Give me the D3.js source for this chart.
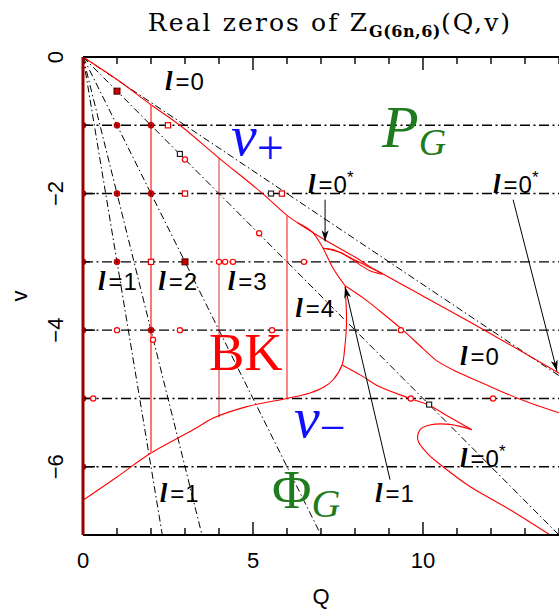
<!DOCTYPE html>
<html>
<head>
<meta charset="utf-8">
<script src="https://cdn.jsdelivr.net/npm/d3@7"></script>
<style>
  body { margin: 0; background: #fff; }
  svg { display: block; }
</style>
</head>
<body>
<svg id="chart" width="559" height="611"></svg>
<script>
// ---- axes ----
const qDomain = [0, 14];
const vDomain = [0, -7];
const qTicks = d3.range(0, 15);
const qMajor = [0, 5, 10];
const qLabels = ["0", "5", "10"];
const vTicks = d3.range(0, -8, -1);
const vMajor = [0, -2, -4, -6];
const vLabels = ["0", "\u22122", "\u22124", "\u22126"];

// ---- reference lines: horizontal v = const and rays v = -k Q ----
const gridV = [-1, -2, -3, -4, -5, -6];
const rayK = [1 / 3, 1 / 2, 1, 2, 3];

// ---- red zero curves, [Q, v] ----
const vPlusUpper = [[0, 0], [1, -0.33], [2, -0.7], [2.85, -1.0], [4, -1.48], [5.26, -1.99], [6, -2.32],
  [6.32, -2.43], [7.12, -2.68], [8.0, -2.93], [8.44, -3.07], [8.8, -3.17], [9.41, -3.34], [11.38, -3.88], [14, -4.63]];
const splitBranch = [[6.32, -2.43], [6.74, -2.56], [7.06, -2.8], [7.35, -3.09], [7.71, -3.35]];
const wedgeA = [[7.06, -2.8], [7.35, -2.82], [7.74, -2.91], [8.3, -3.05], [8.8, -3.17]];
const wedgeB = [[7.06, -2.8], [7.62, -2.87], [7.9, -2.96], [8.44, -3.13], [8.8, -3.18]];
const middleBranch = [[7.71, -3.35], [8.3, -3.55], [8.73, -3.72], [9.41, -4.0], [10.0, -4.27], [10.41, -4.45],
  [11.0, -4.61], [11.68, -4.76], [12.8, -5.0], [14, -5.21]];
const vMinus = [[0, -6.49], [1, -6.15], [2, -5.8], [3.24, -5.46], [3.82, -5.29], [4.82, -5.12], [6.0, -5.0],
  [6.68, -4.92], [7.1, -4.83], [7.35, -4.73], [7.62, -4.51], [7.7, -4.25], [7.75, -3.9], [7.71, -3.35]];
const lowerBranch = [[7.62, -4.51], [8.2, -4.67], [8.73, -4.83], [9.62, -5.0], [10.18, -5.1], [10.8, -5.28], [11.44, -5.46]];
const loopBranch = [[11.44, -5.46], [10.79, -5.38], [10.2, -5.39], [9.91, -5.46], [9.85, -5.61], [10.12, -5.8],
  [10.59, -6.0], [11.38, -6.29], [12.56, -6.63], [13.74, -7.0]];
const verticals = [
  { q: 2, top: -0.7, bottom: -5.8, color: "#ff6666", width: 1.8 },
  { q: 4, top: -1.48, bottom: -5.28, color: "#c00000", width: 0.8 },
  { q: 6, top: -2.32, bottom: -5.0, color: "#ff2020", width: 1.1 }
];

// ---- marked zeros: [Q, v, kind] ----
const points = [
  [0, -1, "dot"], [0, -2, "dot"], [0, -3, "dot"], [0, -4, "dot"], [0, -5, "dot"], [0, -6, "dot"],
  [1, -0.5, "dsq"], [1, -1, "dot"], [2, -1, "dot"], [2.5, -1, "sq"], [2.85, -1.42, "bsq"], [3, -1.5, "ring"],
  [1, -2, "dot"], [2, -2, "dot"], [3, -2, "sq"], [5.53, -2, "bsq"], [5.85, -2, "sq"], [5.18, -2.58, "ring"],
  [1, -3, "dot"], [2, -3, "sq"], [3, -3, "dsq"], [4, -3, "ring"], [4.18, -3, "ring"], [4.41, -3, "ring"], [6.5, -3, "ring"],
  [1, -4, "ring"], [2, -4, "dot"], [2.85, -4, "ring"], [2.06, -4.14, "ring"], [5.56, -4, "ring"], [9.35, -4, "ring"],
  [0.3, -5, "ring"], [9.64, -5, "ring"], [10.18, -5.09, "bsq"], [12.06, -5, "ring"]
];

// ---- annotations ----
const lLabels = [
  { q: 2.41, v: -0.48, n: "0", star: false },
  { q: 6.62, v: -1.99, n: "0", star: true },
  { q: 12.06, v: -1.99, n: "0", star: true },
  { q: 0.44, v: -3.41, n: "1", star: false },
  { q: 2.21, v: -3.41, n: "2", star: false },
  { q: 4.26, v: -3.41, n: "3", star: false },
  { q: 6.24, v: -3.81, n: "4", star: false },
  { q: 11.09, v: -4.51, n: "0", star: false },
  { q: 11.09, v: -6.0, n: "0", star: true },
  { q: 2.26, v: -6.52, n: "1", star: false },
  { q: 8.59, v: -6.52, n: "1", star: false }
];
const arrows = [
  { from: [7.12, -2.09], to: [7.12, -2.7] },
  { from: [12.65, -2.09], to: [13.94, -4.6] },
  { from: [9.03, -6.19], to: [7.71, -3.37] }
];

const svg = d3.select("#chart");
const x = d3.scaleLinear().domain(qDomain).range([83, 559]);
const y = d3.scaleLinear().domain(vDomain).range([57, 535]);

svg.append("defs").append("clipPath").attr("id", "plot")
  .append("rect").attr("x", 83).attr("y", 57).attr("width", 476).attr("height", 478);
svg.select("defs").append("marker")
  .attr("id", "head").attr("viewBox", "-12 -6 14 12").attr("refX", 0).attr("refY", 0)
  .attr("markerWidth", 14).attr("markerHeight", 12).attr("markerUnits", "userSpaceOnUse")
  .attr("orient", "auto")
  .append("path").attr("d", "M0,0 L-11,-3.5 L-8,0 L-11,3.5 Z").attr("fill", "#000");

const plot = svg.append("g").attr("clip-path", "url(#plot)");

// dash-dot reference lines
plot.selectAll("line.h").data(gridV).join("line")
  .attr("x1", x(0)).attr("x2", x(14)).attr("y1", d => y(d)).attr("y2", d => y(d))
  .attr("stroke", "#000").attr("stroke-width", 1.4).attr("stroke-dasharray", "10,3.5,2,3.5");
plot.selectAll("line.r").data(rayK).join("line")
  .attr("x1", x(0)).attr("y1", y(0))
  .attr("x2", d => x(Math.min(14, 7 / d))).attr("y2", d => y(-d * Math.min(14, 7 / d)))
  .attr("stroke", "#000").attr("stroke-width", 1).attr("stroke-dasharray", "7,3,1.5,3");

// red curves
const line = d3.line().x(d => x(d[0])).y(d => y(d[1])).curve(d3.curveCatmullRom.alpha(0.5));
[vPlusUpper, splitBranch, wedgeA, wedgeB, middleBranch, vMinus, lowerBranch, loopBranch].forEach(c => {
  plot.append("path").attr("d", line(c)).attr("fill", "none").attr("stroke", "#ff0000").attr("stroke-width", 1.1);
});
plot.selectAll("line.vert").data(verticals).join("line")
  .attr("x1", d => x(d.q)).attr("x2", d => x(d.q)).attr("y1", d => y(d.top)).attr("y2", d => y(d.bottom))
  .attr("stroke", d => d.color).attr("stroke-width", d => d.width);

// markers
const mk = plot.append("g");
points.forEach(([q, v, kind]) => {
  const cx = x(q), cy = y(v);
  if (kind === "dot") {
    mk.append("circle").attr("cx", cx).attr("cy", cy).attr("r", 3).attr("fill", "#e00000").attr("stroke", "#900").attr("stroke-width", 0.8);
    mk.append("circle").attr("cx", cx).attr("cy", cy).attr("r", 1).attr("fill", "#300");
  } else if (kind === "ring") {
    mk.append("circle").attr("cx", cx).attr("cy", cy).attr("r", 2.6).attr("fill", "#fff").attr("stroke", "#ff0000").attr("stroke-width", 1.2);
  } else if (kind === "sq") {
    mk.append("rect").attr("x", cx - 2.6).attr("y", cy - 2.6).attr("width", 5.2).attr("height", 5.2)
      .attr("fill", "#fff").attr("stroke", "#e00000").attr("stroke-width", 1.2);
  } else if (kind === "dsq") {
    mk.append("rect").attr("x", cx - 3).attr("y", cy - 3).attr("width", 6).attr("height", 6)
      .attr("fill", "#d00000").attr("stroke", "#400").attr("stroke-width", 1);
  } else if (kind === "bsq") {
    mk.append("rect").attr("x", cx - 2.5).attr("y", cy - 2.5).attr("width", 5).attr("height", 5)
      .attr("fill", "#fff").attr("stroke", "#222").attr("stroke-width", 1.2);
  }
});

// axes with inward ticks
const tickLen = d => (qMajor.includes(d) ? 13 : 7);
const frame = svg.append("g").attr("stroke", "#000").attr("stroke-width", 1.4);
frame.append("line").attr("x1", x(0)).attr("x2", x(14)).attr("y1", y(0)).attr("y2", y(0)).attr("stroke-width", 2);
frame.append("line").attr("x1", x(0)).attr("x2", x(14)).attr("y1", y(-7)).attr("y2", y(-7)).attr("stroke-width", 2);
frame.selectAll("line.tt").data(qTicks).join("line")
  .attr("x1", d => x(d)).attr("x2", d => x(d)).attr("y1", y(0)).attr("y2", d => y(0) + tickLen(d));
frame.selectAll("line.tb").data(qTicks).join("line")
  .attr("x1", d => x(d)).attr("x2", d => x(d)).attr("y1", y(-7)).attr("y2", d => y(-7) - tickLen(d));
frame.selectAll("line.tl").data(vTicks).join("line")
  .attr("x1", x(0)).attr("x2", d => x(0) + (vMajor.includes(d) ? 12 : 7)).attr("y1", d => y(d)).attr("y2", d => y(d));
// zeros along Q = 0
svg.append("line").attr("x1", x(0)).attr("x2", x(0)).attr("y1", y(0)).attr("y2", y(-7))
  .attr("stroke", "#990000").attr("stroke-width", 3);

// tick labels
svg.selectAll("text.ql").data(qMajor).join("text")
  .attr("x", d => x(d)).attr("y", 568).attr("text-anchor", "middle")
  .style("font-family", "Liberation Sans, Arial, sans-serif").style("font-size", "22px")
  .text((d, i) => qLabels[i]);
svg.selectAll("text.vl").data(vMajor).join("text")
  .attr("transform", d => `translate(63,${y(d)}) rotate(-90)`).attr("text-anchor", "middle")
  .style("font-family", "Liberation Sans, Arial, sans-serif").style("font-size", "22px")
  .text((d, i) => vLabels[i]);
svg.append("text").attr("x", x(7)).attr("y", 604).attr("text-anchor", "middle")
  .style("font-family", "Liberation Sans, Arial, sans-serif").style("font-size", "22px").text("Q");
svg.append("text").attr("transform", `translate(27,${y(-3.5)}) rotate(-90)`).attr("text-anchor", "middle")
  .style("font-family", "Liberation Sans, Arial, sans-serif").style("font-size", "22px").text("v");

// title
const title = svg.append("text").attr("x", 330).attr("y", 31).attr("text-anchor", "middle")
  .style("font-family", "DejaVu Serif, serif").style("font-size", "25px").style("letter-spacing", "2.1px");
title.append("tspan").text("Real zeros of Z");
title.append("tspan").attr("dy", 6).style("font-size", "16px").style("font-weight", "bold")
  .style("letter-spacing", "0.5px").text("G(6n,6)");
title.append("tspan").attr("dy", -6).text("(Q,v)");

// l = ... labels
lLabels.forEach(d => {
  const t = svg.append("text").attr("x", x(d.q)).attr("y", y(d.v))
    .style("font-family", "Liberation Sans, Arial, sans-serif").style("font-size", "24px");
  t.append("tspan").style("font-family", "Liberation Serif, serif").style("font-style", "italic")
    .style("font-weight", "bold").style("font-size", "27px").text("l");
  t.append("tspan").attr("dx", 3).text("=");
  t.append("tspan").attr("dx", 1).text(d.n);
  if (d.star) t.append("tspan").attr("dy", -10).style("font-size", "17px").text("*");
});

// arrows
svg.selectAll("line.arrow").data(arrows).join("line")
  .attr("x1", d => x(d.from[0])).attr("y1", d => y(d.from[1]))
  .attr("x2", d => x(d.to[0])).attr("y2", d => y(d.to[1]))
  .attr("stroke", "#000").attr("stroke-width", 1).attr("marker-end", "url(#head)");

// region names
const serif = "Liberation Serif, Times New Roman, serif";
const vp = svg.append("text").attr("x", 231).attr("y", 155).style("font-family", serif).attr("fill", "#1010ff");
vp.append("tspan").style("font-style", "italic").style("font-size", "58px").text("v");
vp.append("tspan").attr("dy", 9).style("font-size", "48px").text("+");

const pg = svg.append("text").attr("x", 382).attr("y", 147).style("font-family", serif).attr("fill", "#1e7b1e");
pg.append("tspan").style("font-style", "italic").style("font-size", "60px").text("P");
pg.append("tspan").attr("dy", 8).style("font-style", "italic").style("font-size", "38px").text("G");

svg.append("text").attr("x", 209).attr("y", 370).style("font-family", serif)
  .style("font-size", "53px").attr("fill", "#ff0000").text("BK");

const vm = svg.append("text").attr("x", 294).attr("y", 437).style("font-family", serif).attr("fill", "#1010ff");
vm.append("tspan").style("font-style", "italic").style("font-size", "58px").text("v");
vm.append("tspan").attr("dy", 6).style("font-size", "46px").text("\u2212");

const fg = svg.append("text").attr("x", 272).attr("y", 508).style("font-family", serif).attr("fill", "#1e7b1e");
fg.append("tspan").style("font-size", "54px").text("\u03A6");
fg.append("tspan").attr("dy", 9).style("font-style", "italic").style("font-size", "40px").text("G");
</script>
</body>
</html>
